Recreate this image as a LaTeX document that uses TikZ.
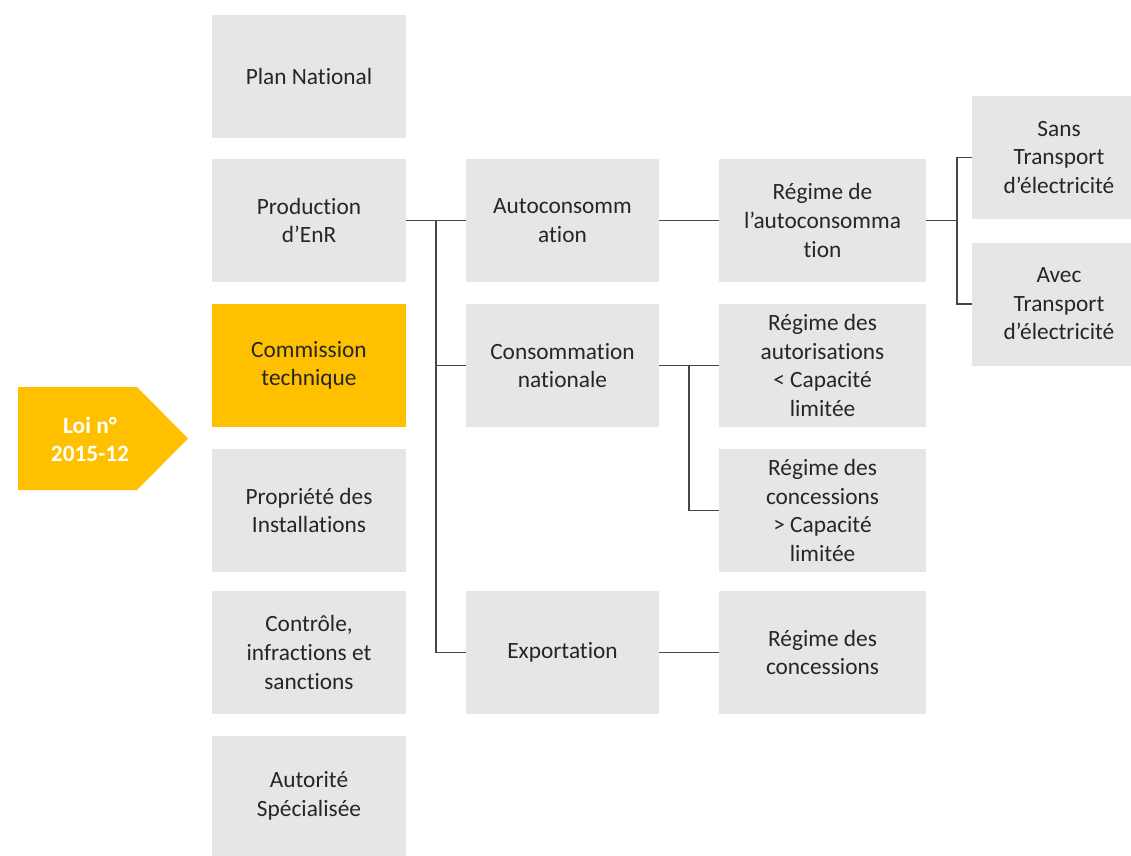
\documentclass[tikz,border=0pt]{standalone}
\usepackage{fontspec}
\setmainfont{Carlito}[Ligatures={NoCommon}]
\usepackage{xcolor}
\usepackage{tikz}
\usetikzlibrary{positioning}

\definecolor{gris}{RGB}{231,230,230}
\definecolor{jaune}{RGB}{255,192,0}
\definecolor{texte}{RGB}{38,38,38}
\definecolor{trait}{RGB}{70,70,70}

\tikzset{
  boite/.style={fill=gris, draw=none, inner sep=0pt, align=center, text=texte,
    minimum height=123*0.75pt, font=\fontsize{17.5}{21.4}\selectfont},
  col1/.style={boite, minimum width=194*0.75pt},
  col2/.style={boite, minimum width=193*0.75pt},
  col3/.style={boite, minimum width=207*0.75pt},
  col4/.style={boite, minimum width=174*0.75pt},
  lien/.style={draw=trait, line width=0.9pt},
}

\begin{document}
\begin{tikzpicture}[x=0.75pt,y=0.75pt,yscale=-1,xscale=1]
\useasboundingbox (0,0) rectangle (1131,856);

% Arrow
\fill [jaune] (18,387) -- (137,387) -- (188,438.5) -- (137,490) -- (18,490) -- cycle ;
\node (loi) at (90,439.5) [align=center, text=white, font=\fontsize{17.5}{21.4}\selectfont\bfseries] {Loi n°\\2015-12};

% Column 1
\node [col1] (plan) at (309,76.5) {Plan National};
\node [col1] (prod) at (309,220.5) {Production\\d’EnR};
\node [col1, fill=jaune] (comm) at (309,365.5) {Commission\\technique};
\node [col1] (prop) at (309,510.5) {Propriété des\\Installations};
\node [col1] (ctrl) at (309,652.5) {Contrôle,\\infractions et\\sanctions};
\node [col1, minimum height=120*0.75pt] (autor) at (309,796) {Autorité\\Spécialisée};

% Column 2
\node [col2] (auto) at (562.5,220.5) {Autoconsomm\\ation};
\node [col2] (conso) at (562.5,365.5) {Consommation\\nationale};
\node [col2] (expo) at (562.5,652.5) {Exportation};

% Column 3
\node [col3] (regA) at (822.5,220.5) {Régime de\\l’autoconsomma\\tion};
\node [col3] (regB) at (822.5,365.5) {Régime des\\autorisations\\< Capacité\\limitée};
\node [col3] (regC) at (822.5,510.5) {Régime des\\concessions\\> Capacité\\limitée};
\node [col3] (regD) at (822.5,652.5) {Régime des\\concessions};

% Column 4
\node [col4] (sans) at (1059,157.5) {Sans\\Transport\\d’électricité};
\node [col4] (avec) at (1059,304) {Avec\\Transport\\d’électricité};

% Junctions
\coordinate (j1) at (436,220.5);
\coordinate (j2) at (689,365.5);
\coordinate (j3) at (957,220.5);

% Connectors
\draw [lien] (prod.east) -- (auto.west);
\draw [lien] (j1) |- (conso.west);
\draw [lien] (j1) |- (expo.west);
\draw [lien] (auto.east) -- (regA.west);
\draw [lien] (conso.east) -- (regB.west);
\draw [lien] (j2) |- (regC.west);
\draw [lien] (expo.east) -- (regD.west);
\draw [lien] (regA.east) -- (j3);
\draw [lien] (j3) |- (sans.west);
\draw [lien] (j3) |- (avec.west);

\end{tikzpicture}
\end{document}
